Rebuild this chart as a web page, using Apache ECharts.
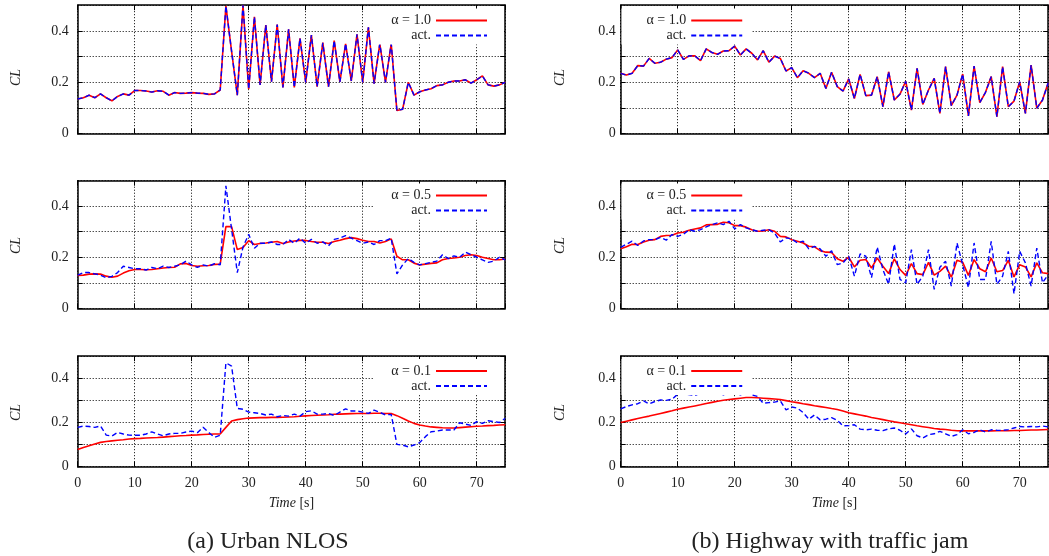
<!DOCTYPE html>
<html><head><meta charset="utf-8">
<script src="https://cdn.jsdelivr.net/npm/echarts@6/dist/echarts.min.js"></script>
<style>html,body{margin:0;padding:0;background:#fff}#c{width:1049px;height:556px}</style>
</head><body><div id="c"></div>
<script>
// ---------- data ----------
const TIME = [0,1,2,3,4,5,6,7,8,9,10,11,12,13,14,15,16,17,18,19,20,21,22,23,24,25,26,27,28,29,30,31,32,33,34,35,36,37,38,39,40,41,42,43,44,45,46,47,48,49,50,51,52,53,54,55,56,57,58,59,60,61,62,63,64,65,66,67,68,69,70,71,72,73,74,75];
const X_LABELS = ['0','10','20','30','40','50','60','70'];
const Y_LABELS = ['0','0.2','0.4'];
const LEGEND_NAMES = ['α = 1.0','α = 0.5','α = 0.1'];
const ACT_NAME = 'act.';
const CAPTIONS = ['(a) Urban NLOS','(b) Highway with traffic jam'];

// (a) Urban NLOS
const URBAN_ACT_10 = [0.135,0.14,0.15,0.14,0.155,0.14,0.128,0.145,0.155,0.15,
0.168,0.168,0.166,0.162,0.167,0.165,0.15,0.16,0.157,0.158,
0.16,0.158,0.157,0.153,0.155,0.17,0.497,0.32,0.15,0.5,
0.173,0.455,0.19,0.423,0.202,0.425,0.18,0.406,0.18,0.371,
0.2,0.384,0.183,0.354,0.183,0.362,0.202,0.35,0.205,0.387,
0.2,0.414,0.195,0.35,0.2,0.35,0.09,0.095,0.2,0.15,
0.163,0.17,0.175,0.187,0.19,0.2,0.205,0.205,0.21,0.197,
0.21,0.225,0.19,0.185,0.19,0.2];
const URBAN_EST_10 = URBAN_ACT_10; // alpha = 1.0 estimate equals the measurement
const URBAN_EST_05 = [0.129,0.13,0.134,0.135,0.134,0.126,0.122,0.126,0.138,0.147,
0.152,0.152,0.151,0.152,0.155,0.158,0.16,0.161,0.174,0.176,
0.168,0.165,0.167,0.168,0.172,0.173,0.32,0.32,0.23,0.238,
0.265,0.25,0.254,0.256,0.259,0.262,0.254,0.26,0.264,0.266,
0.266,0.262,0.259,0.259,0.254,0.262,0.267,0.273,0.277,0.273,
0.267,0.262,0.262,0.256,0.262,0.272,0.204,0.19,0.19,0.177,
0.17,0.173,0.176,0.178,0.19,0.195,0.197,0.2,0.207,0.21,
0.207,0.2,0.195,0.19,0.19,0.193];
const URBAN_ACT_05 = [0.13,0.14,0.14,0.135,0.13,0.12,0.125,0.14,0.165,0.16,
0.155,0.155,0.15,0.16,0.155,0.165,0.16,0.165,0.17,0.185,
0.17,0.16,0.17,0.165,0.175,0.17,0.48,0.31,0.14,0.24,
0.29,0.235,0.255,0.255,0.26,0.25,0.25,0.27,0.255,0.275,
0.255,0.27,0.255,0.26,0.245,0.27,0.275,0.285,0.275,0.265,
0.255,0.26,0.25,0.265,0.265,0.275,0.135,0.17,0.195,0.18,
0.17,0.175,0.18,0.185,0.21,0.195,0.205,0.2,0.22,0.21,
0.2,0.19,0.18,0.185,0.2,0.19];
const URBAN_EST_01 = [0.078,0.087,0.095,0.103,0.11,0.114,0.117,0.12,0.122,0.125,
0.127,0.128,0.13,0.131,0.132,0.134,0.136,0.138,0.14,0.141,
0.143,0.144,0.146,0.147,0.148,0.148,0.178,0.207,0.213,0.217,
0.22,0.221,0.222,0.222,0.223,0.223,0.224,0.225,0.226,0.228,
0.23,0.232,0.233,0.234,0.235,0.237,0.238,0.239,0.24,0.241,
0.241,0.241,0.242,0.242,0.241,0.241,0.231,0.219,0.207,0.196,
0.189,0.184,0.18,0.178,0.176,0.175,0.175,0.177,0.179,0.181,
0.183,0.184,0.186,0.187,0.189,0.19];
const URBAN_ACT_01 = [0.178,0.184,0.182,0.178,0.184,0.143,0.139,0.155,0.148,0.143,
0.142,0.142,0.148,0.158,0.148,0.14,0.148,0.151,0.151,0.157,
0.161,0.154,0.178,0.154,0.133,0.142,0.47,0.455,0.264,0.26,
0.247,0.244,0.241,0.234,0.238,0.226,0.232,0.229,0.238,0.229,
0.249,0.253,0.238,0.238,0.241,0.232,0.247,0.262,0.252,0.252,
0.247,0.241,0.256,0.246,0.234,0.237,0.101,0.098,0.09,0.098,
0.109,0.136,0.158,0.161,0.166,0.166,0.166,0.199,0.193,0.187,
0.204,0.196,0.208,0.204,0.2,0.219];

// (b) Highway with traffic jam
const HIGHWAY_ACT_10 = [0.235,0.228,0.235,0.265,0.263,0.293,0.274,0.278,0.29,0.296,
0.326,0.289,0.303,0.303,0.284,0.33,0.316,0.309,0.322,0.323,
0.341,0.306,0.33,0.313,0.287,0.323,0.278,0.302,0.293,0.244,
0.257,0.218,0.245,0.235,0.218,0.235,0.176,0.239,0.183,0.166,
0.213,0.137,0.231,0.148,0.15,0.222,0.105,0.241,0.131,0.154,
0.204,0.092,0.254,0.114,0.17,0.215,0.079,0.261,0.109,0.15,
0.232,0.069,0.263,0.121,0.161,0.222,0.066,0.261,0.105,0.127,
0.202,0.079,0.267,0.099,0.131,0.198];
const HIGHWAY_EST_10 = HIGHWAY_ACT_10; // alpha = 1.0 estimate equals the measurement
const HIGHWAY_EST_05 = [0.233,0.241,0.251,0.25,0.26,0.267,0.269,0.282,0.285,0.286,
0.295,0.298,0.306,0.311,0.315,0.327,0.328,0.329,0.337,0.335,
0.324,0.324,0.318,0.308,0.302,0.303,0.308,0.302,0.282,0.28,
0.269,0.263,0.256,0.243,0.241,0.226,0.22,0.219,0.194,0.184,
0.2,0.162,0.188,0.191,0.158,0.197,0.165,0.136,0.194,0.152,
0.129,0.175,0.136,0.132,0.18,0.13,0.145,0.165,0.122,0.188,
0.18,0.129,0.191,0.155,0.143,0.197,0.143,0.148,0.188,0.123,
0.171,0.162,0.123,0.178,0.139,0.136];
const HIGHWAY_ACT_05 = [0.239,0.251,0.263,0.246,0.264,0.269,0.269,0.278,0.267,0.289,
0.282,0.29,0.308,0.302,0.308,0.319,0.328,0.335,0.328,0.341,
0.311,0.328,0.315,0.308,0.302,0.306,0.308,0.295,0.26,0.276,
0.272,0.256,0.263,0.233,0.243,0.233,0.204,0.225,0.171,0.178,
0.204,0.126,0.213,0.204,0.12,0.24,0.152,0.094,0.252,0.113,
0.1,0.23,0.094,0.126,0.23,0.074,0.161,0.184,0.087,0.256,
0.171,0.081,0.256,0.113,0.113,0.262,0.094,0.126,0.223,0.057,
0.223,0.178,0.087,0.236,0.1,0.132];
const HIGHWAY_EST_01 = [0.2,0.206,0.212,0.218,0.224,0.229,0.235,0.241,0.247,0.253,
0.26,0.265,0.27,0.275,0.28,0.286,0.291,0.296,0.301,0.304,
0.307,0.31,0.313,0.313,0.312,0.31,0.308,0.306,0.304,0.299,
0.294,0.29,0.285,0.281,0.276,0.272,0.268,0.263,0.259,0.252,
0.244,0.239,0.234,0.229,0.223,0.218,0.213,0.208,0.203,0.199,
0.194,0.19,0.185,0.181,0.177,0.173,0.17,0.168,0.165,0.163,
0.162,0.162,0.162,0.162,0.162,0.162,0.163,0.163,0.163,0.164,
0.164,0.165,0.166,0.166,0.167,0.168];
const HIGHWAY_ACT_01 = [0.262,0.272,0.28,0.285,0.298,0.284,0.295,0.302,0.3,0.305,
0.328,0.333,0.326,0.322,0.333,0.355,0.36,0.35,0.325,0.335,
0.335,0.325,0.335,0.325,0.318,0.287,0.29,0.292,0.298,0.257,
0.27,0.265,0.245,0.215,0.234,0.212,0.215,0.222,0.21,0.185,
0.186,0.19,0.17,0.167,0.17,0.165,0.163,0.171,0.175,0.165,
0.148,0.171,0.14,0.13,0.145,0.149,0.16,0.149,0.137,0.145,
0.167,0.149,0.155,0.167,0.157,0.167,0.165,0.164,0.168,0.175,
0.182,0.18,0.182,0.18,0.184,0.18];

// ---------- layout ----------
const FONT = 'Liberation Serif';
const TXT = '#222';
const RED = '#ff0000', BLUE = '#0000ff';
const W = 427.5;
const COLS = [
  {left: 77.7, nameGap: 54, labelMargin: 9},
  {left: 620.7, nameGap: 53, labelMargin: 5}
];
const ROWS = [
  {top: 5.2, height: 128.5, legendTop: 8.5, namePad: [0, 16, 0, 0]},
  {top: 180.7, height: 127.6, legendTop: 183.5, namePad: [0, 2, 0, 0]},
  {top: 356.2, height: 110.5, legendTop: 359, namePad: [0, 2, 0, 0]}
];
const PANELS = [
  {col:0,row:0,name:LEGEND_NAMES[0],est:URBAN_EST_10,act:URBAN_ACT_10},
  {col:0,row:1,name:LEGEND_NAMES[1],est:URBAN_EST_05,act:URBAN_ACT_05},
  {col:0,row:2,name:LEGEND_NAMES[2],est:URBAN_EST_01,act:URBAN_ACT_01},
  {col:1,row:0,name:LEGEND_NAMES[0],est:HIGHWAY_EST_10,act:HIGHWAY_ACT_10},
  {col:1,row:1,name:LEGEND_NAMES[1],est:HIGHWAY_EST_05,act:HIGHWAY_ACT_05},
  {col:1,row:2,name:LEGEND_NAMES[2],est:HIGHWAY_EST_01,act:HIGHWAY_ACT_01}
];

const axisLineStyle = {show: true, onZero: false, lineStyle: {color: '#000', width: 1.5}};
const tickStyle = {show: true, inside: true, length: 5, lineStyle: {color: '#000', width: 1}};
const gridLine = {show: true, lineStyle: {color: '#000', width: 1, type: [1, 2]}};
const labelFont = {fontFamily: FONT, fontSize: 14, color: TXT};

const grid = [], xAxis = [], yAxis = [], series = [], legend = [];
PANELS.forEach((p, g) => {
  const c = COLS[p.col], r = ROWS[p.row];
  grid.push({left: c.left, top: r.top, width: W, height: r.height, show: false});
  const bottomRow = p.row === 2;
  xAxis.push({
    type: 'value', gridIndex: g, position: 'bottom', min: 0, max: 75, interval: 10,
    axisLine: axisLineStyle, axisTick: tickStyle, splitLine: gridLine,
    axisLabel: Object.assign({show: bottomRow, margin: 10, showMaxLabel: false,
      formatter: v => X_LABELS.includes(String(v)) ? String(v) : ''}, labelFont),
    name: bottomRow ? '{i|Time} [s]' : '', nameLocation: 'middle', nameGap: 30,
    nameTextStyle: {fontFamily: FONT, fontSize: 14, color: TXT,
      rich: {i: {fontFamily: FONT, fontSize: 14, fontStyle: 'italic', color: TXT}}}
  });
  xAxis.push({
    type: 'value', gridIndex: g, position: 'top', min: 0, max: 75, interval: 10,
    axisLine: axisLineStyle, axisTick: tickStyle, splitLine: {show: false}, axisLabel: {show: false}
  });
  yAxis.push({
    type: 'value', gridIndex: g, position: 'left', min: 0, max: 0.5, interval: 0.1,
    axisLine: axisLineStyle, axisTick: tickStyle, splitLine: gridLine,
    axisLabel: Object.assign({margin: c.labelMargin, showMaxLabel: false,
      formatter: v => { const s = String(+v.toFixed(1)); return Y_LABELS.includes(s) ? s : ''; }}, labelFont),
    name: 'CL', nameLocation: 'middle', nameRotate: 90, nameGap: c.nameGap,
    nameTextStyle: {fontFamily: FONT, fontSize: 14, fontStyle: 'italic', color: TXT, padding: r.namePad}
  });
  yAxis.push({
    type: 'value', gridIndex: g, position: 'right', min: 0, max: 0.5, interval: 0.1,
    axisLine: axisLineStyle, axisTick: tickStyle, splitLine: {show: false}, axisLabel: {show: false}
  });
  series.push({
    type: 'line', name: p.name, xAxisIndex: 2 * g, yAxisIndex: 2 * g,
    data: TIME.map((t, i) => [t, p.est[i]]), showSymbol: false, symbol: 'none',
    lineStyle: {color: RED, width: 1.6}, itemStyle: {color: RED}, z: 2, animation: false
  });
  series.push({
    type: 'line', name: ACT_NAME, xAxisIndex: 2 * g, yAxisIndex: 2 * g,
    data: TIME.map((t, i) => [t, p.act[i]]), showSymbol: false, symbol: 'none',
    lineStyle: {color: BLUE, width: 1.4, type: [5, 3]}, itemStyle: {color: BLUE}, z: 3, animation: false
  });
  const lg = {
    data: [p.name, ACT_NAME], orient: 'vertical', align: 'right', top: r.legendTop,
    itemWidth: 51, itemHeight: 12, itemGap: 1, selectedMode: false,
    backgroundColor: '#fff', z: 10,
    itemStyle: {opacity: 0},
    textStyle: {fontFamily: FONT, fontSize: 14, color: TXT, lineHeight: 14}
  };
  if (p.col === 0) { lg.right = 1049 - 504; lg.padding = [5, 16, 2, 18]; }
  else { lg.left = 621.5; lg.padding = [5, 8, 2, 25]; }
  legend.push(lg);
});

const chart = echarts.init(document.getElementById('c'), null, {renderer: 'canvas'});
chart.setOption({
  animation: false,
  backgroundColor: '#fff',
  grid, xAxis, yAxis, series, legend,
  graphic: [
    {type: 'text', x: 268, y: 542, style: {text: CAPTIONS[0], font: '24px Liberation Serif', fill: TXT, align: 'center', verticalAlign: 'middle'}},
    {type: 'text', x: 830, y: 542, style: {text: CAPTIONS[1], font: '24px Liberation Serif', fill: TXT, align: 'center', verticalAlign: 'middle'}}
  ]
});
</script></body></html>
